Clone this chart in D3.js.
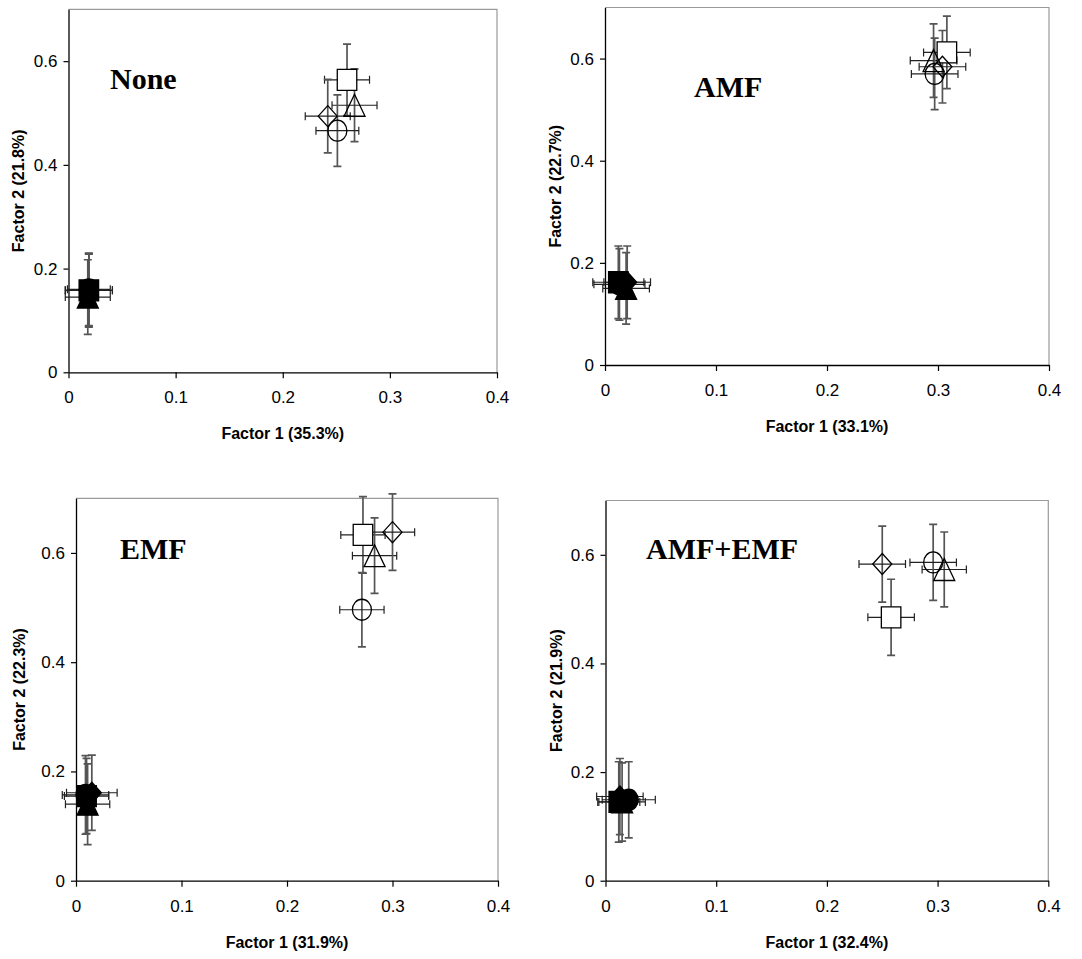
<!DOCTYPE html>
<html>
<head>
<meta charset="utf-8">
<script src="https://cdn.jsdelivr.net/npm/d3@7"></script>
<style>
  body { margin: 0; background: #fff; }
</style>
</head>
<body>
<div id="chart"></div>
<script>
const panelNames = ["None", "AMF", "EMF", "AMF+EMF"];
const factor1Titles = ["Factor 1 (35.3%)", "Factor 1 (33.1%)", "Factor 1 (31.9%)", "Factor 1 (32.4%)"];
const factor2Titles = ["Factor 2 (21.8%)", "Factor 2 (22.7%)", "Factor 2 (22.3%)", "Factor 2 (21.9%)"];

const xTicks = [0, 0.1, 0.2, 0.3, 0.4];
const yTicks = [0, 0.2, 0.4, 0.6];

// series order: open square, triangle, diamond, circle, then the filled ones
const seriesShapes = ["square", "triangle", "diamond", "circle", "square", "triangle", "diamond", "circle"];
const seriesFilled = [false, false, false, false, true, true, true, true];

const factor1Means = [
  [0.260, 0.267, 0.242, 0.251, 0.019, 0.018, 0.019, 0.019],
  [0.308, 0.296, 0.304, 0.297, 0.012, 0.019, 0.020, 0.013],
  [0.272, 0.283, 0.300, 0.271, 0.010, 0.011, 0.015, 0.009],
  [0.258, 0.306, 0.250, 0.296, 0.012, 0.015, 0.013, 0.021],
];
const factor1Errors = [
  [0.021, 0.021, 0.021, 0.020, 0.022, 0.021, 0.022, 0.020],
  [0.021, 0.021, 0.021, 0.021, 0.023, 0.021, 0.021, 0.023],
  [0.021, 0.021, 0.021, 0.021, 0.021, 0.021, 0.024, 0.022],
  [0.021, 0.020, 0.021, 0.021, 0.019, 0.021, 0.021, 0.024],
];
const factor2Means = [
  [0.564, 0.515, 0.494, 0.466, 0.158, 0.145, 0.158, 0.160],
  [0.612, 0.596, 0.584, 0.570, 0.162, 0.150, 0.162, 0.158],
  [0.633, 0.595, 0.638, 0.496, 0.155, 0.140, 0.161, 0.157],
  [0.485, 0.573, 0.583, 0.586, 0.145, 0.145, 0.155, 0.149],
];
const factor2Errors = [
  [0.069, 0.070, 0.071, 0.069, 0.071, 0.072, 0.070, 0.070],
  [0.071, 0.072, 0.071, 0.070, 0.071, 0.070, 0.071, 0.070],
  [0.070, 0.069, 0.070, 0.068, 0.069, 0.074, 0.069, 0.072],
  [0.070, 0.069, 0.070, 0.070, 0.074, 0.072, 0.070, 0.070],
];

// where each panel's plot area sits on the page
const panelBoxes = [
  { left: 68.5, top: 9.3, right: 497, bottom: 372.3, titleX: 110, titleY: 89, yTitleX: 23.5 },
  { left: 605, top: 7.5, right: 1049, bottom: 365, titleX: 694, titleY: 97, yTitleX: 561 },
  { left: 76, top: 498.3, right: 498, bottom: 880.7, titleX: 120, titleY: 559, yTitleX: 25 },
  { left: 605.5, top: 500.5, right: 1048.3, bottom: 880.7, titleX: 646, titleY: 559, yTitleX: 561.7 },
];

const width = 1082;
const height = 959;
const capHalf = 4;

function markerPath(shape, w, h) {
  if (shape === "circle") {
    const rx = w / 2, ry = h / 2;
    return `M${-rx},0A${rx},${ry} 0 1,0 ${rx},0A${rx},${ry} 0 1,0 ${-rx},0Z`;
  }
  const p = d3.path();
  if (shape === "square") {
    p.rect(-w / 2, -h / 2, w, h);
  } else if (shape === "triangle") {
    p.moveTo(0, -h / 2);
    p.lineTo(w / 2, h / 2);
    p.lineTo(-w / 2, h / 2);
    p.closePath();
  } else {
    p.moveTo(0, -h / 2);
    p.lineTo(w / 2, 0);
    p.lineTo(0, h / 2);
    p.lineTo(-w / 2, 0);
    p.closePath();
  }
  return p.toString();
}

const markerSize = {
  square: [19.5, 21],
  triangle: [21, 22],
  diamond: [19, 21],
  circle: [19, 21],
};

const svg = d3
  .select("#chart")
  .append("svg")
  .attr("width", width)
  .attr("height", height)
  .style("background", "#fff");

panelNames.forEach((name, pi) => {
  const box = panelBoxes[pi];

  const xScale = d3.scaleLinear().domain([0, 0.4]).range([box.left, box.right]);
  const yScale = d3.scaleLinear().domain([0, 0.7]).range([box.bottom, box.top]);

  const points = seriesShapes.map((shape, i) => ({
    shape: shape,
    filled: seriesFilled[i],
    x: factor1Means[pi][i],
    y: factor2Means[pi][i],
    ex: factor1Errors[pi][i],
    ey: factor2Errors[pi][i],
  }));

  const g = svg.append("g");

  // plot area border (top and right are grey)
  g.append("path")
    .attr("d", `M${box.left},${box.top}H${box.right}V${box.bottom}`)
    .attr("fill", "none")
    .attr("stroke", "#9a9a9a")
    .attr("stroke-width", 1.2);

  const xAxis = d3
    .axisBottom(xScale)
    .tickValues(xTicks)
    .tickFormat(d3.format("~g"))
    .tickSizeInner(6)
    .tickSizeOuter(0)
    .tickPadding(13);
  const yAxis = d3
    .axisLeft(yScale)
    .tickValues(yTicks)
    .tickFormat(d3.format("~g"))
    .tickSizeInner(5)
    .tickSizeOuter(0)
    .tickPadding(6);

  const gx = g.append("g").attr("transform", `translate(0,${box.bottom})`).call(xAxis);
  const gy = g.append("g").attr("transform", `translate(${box.left},0)`).call(yAxis);

  [gx, gy].forEach((ax) => {
    ax.attr("font-family", "'Liberation Sans', Arial, sans-serif").attr("font-size", 17);
    ax.select(".domain").attr("stroke", "#000").attr("stroke-width", 1.3);
    ax.selectAll(".tick line").attr("stroke", "#000").attr("stroke-width", 1.2);
    ax.selectAll(".tick text").attr("fill", "#000");
  });

  // error bars first, markers on top
  const bars = g.append("g");
  points.forEach((d) => {
    const cx = xScale(d.x), cy = yScale(d.y);
    const x0 = xScale(d.x - d.ex), x1 = xScale(d.x + d.ex);
    const y0 = yScale(d.y - d.ey), y1 = yScale(d.y + d.ey);

    bars.append("path")
      .attr("d", `M${cx},${y0}V${y1}M${cx - capHalf},${y0}H${cx + capHalf}M${cx - capHalf},${y1}H${cx + capHalf}`)
      .attr("fill", "none")
      .attr("stroke", "#555")
      .attr("stroke-width", 1.7);

    bars.append("path")
      .attr("d", `M${x0},${cy}H${x1}M${x0},${cy - capHalf}V${cy + capHalf}M${x1},${cy - capHalf}V${cy + capHalf}`)
      .attr("fill", "none")
      .attr("stroke", "#222")
      .attr("stroke-width", 1.2);
  });

  g.append("g")
    .selectAll("path")
    .data(points)
    .join("path")
    .attr("transform", (d) => `translate(${xScale(d.x)},${yScale(d.y)})`)
    .attr("d", (d) => markerPath(d.shape, markerSize[d.shape][0], markerSize[d.shape][1]))
    .attr("fill", (d) => (d.filled ? "#000" : d.shape === "square" ? "#fff" : "none"))
    .attr("stroke", "#000")
    .attr("stroke-width", 1.3);

  // panel name
  g.append("text")
    .attr("x", box.titleX)
    .attr("y", box.titleY)
    .attr("font-family", "'Liberation Serif', 'Times New Roman', serif")
    .attr("font-weight", "bold")
    .attr("font-size", 30)
    .text(name);

  // axis titles
  g.append("text")
    .attr("x", (box.left + box.right) / 2)
    .attr("y", box.bottom + 67)
    .attr("text-anchor", "middle")
    .attr("font-family", "'Liberation Sans', Arial, sans-serif")
    .attr("font-weight", "bold")
    .attr("font-size", 16)
    .text(factor1Titles[pi]);

  g.append("text")
    .attr("transform", `translate(${box.yTitleX},${(box.top + box.bottom) / 2}) rotate(-90)`)
    .attr("text-anchor", "middle")
    .attr("font-family", "'Liberation Sans', Arial, sans-serif")
    .attr("font-weight", "bold")
    .attr("font-size", 16)
    .text(factor2Titles[pi]);
});
</script>
</body>
</html>
